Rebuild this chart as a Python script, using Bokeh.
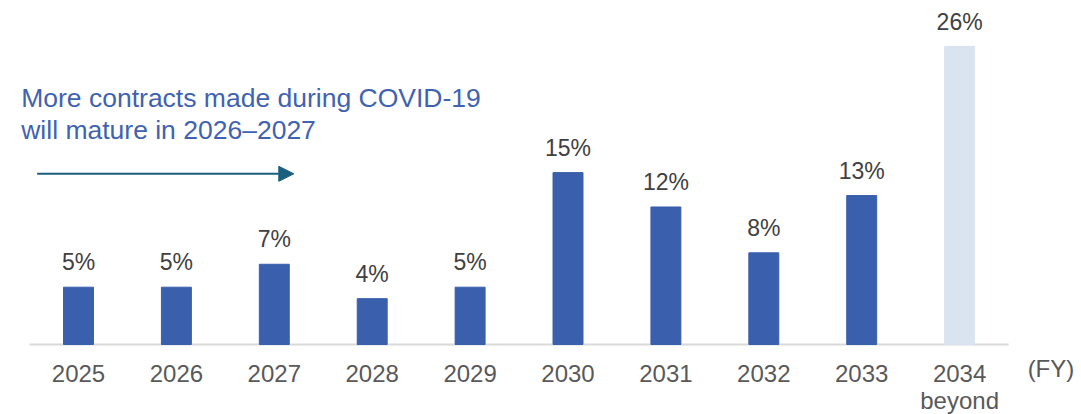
from bokeh.plotting import figure
from bokeh.models import Range1d, Arrow, NormalHead, ColumnDataSource
from bokeh.core.properties import value
from bokeh.embed import file_html
from bokeh.resources import INLINE

# ---- data ----
categories = ["2025", "2026", "2027", "2028", "2029", "2030", "2031", "2032", "2033", "2034\nbeyond"]
shares = [5, 5, 7, 4, 5, 15, 12, 8, 13, 26]
share_labels = ["5%", "5%", "7%", "4%", "5%", "15%", "12%", "8%", "13%", "26%"]
unit_label = "(FY)"
note_lines = ["More contracts made during COVID-19", "will mature in 2026\u20132027"]

FONT = "Liberation Sans"
DARK = "#3A5FAC"
LIGHT = "#DAE3F0"
NOTE = "#3F63B0"
ARROW = "#1B5E7E"

n = len(categories)
xs = list(range(n))
colors = [DARK] * (n - 1) + [LIGHT]
src = ColumnDataSource(dict(x=xs, top=shares, color=colors, lab=share_labels))

first = [c.split("\n")[0] for c in categories]
second_x = [i for i, c in enumerate(categories) if "\n" in c]
second = [c.split("\n")[1] for c in categories if "\n" in c]

p = figure(width=1081, height=414, output_backend="svg", toolbar_location=None,
           x_range=Range1d(-0.7967, 10.245), y_range=Range1d(-6.108, 30.017),
           min_border_left=0, min_border_right=0, min_border_top=0, min_border_bottom=0)
p.outline_line_color = None
p.grid.visible = False
p.axis.visible = False
p.background_fill_color = "white"
p.border_fill_color = "white"

# baseline (category axis line)
p.segment(x0=[-0.5], y0=[0], x1=[n - 0.5], y1=[0], line_color="#D9D9D9", line_width=2)

p.vbar(x="x", top="top", bottom=0, width=0.306, color="color", source=src)
p.text(x="x", y="top", text="lab", source=src, y_offset=-25, text_align="center",
       text_baseline="alphabetic", text_font=value(FONT), text_font_size="23px",
       text_color="#404040")

# category labels
p.text(x=xs, y=[0] * n, text=first, y_offset=29, text_align="center",
       text_baseline="alphabetic", text_font=value(FONT), text_font_size="24px",
       text_color="#595959")
p.text(x=second_x, y=[0] * len(second_x), text=second, y_offset=56, text_align="center",
       text_baseline="alphabetic", text_font=value(FONT), text_font_size="24px",
       text_color="#595959")
p.text(x=[9.933], y=[0], text=[unit_label], y_offset=24, text_align="center",
       text_baseline="alphabetic", text_font=value(FONT), text_font_size="24px",
       text_color="#595959")

# note
p.text(x=[-0.585, -0.585], y=[20.707, 17.95], text=note_lines, y_offset=-9, text_align="left",
       text_baseline="alphabetic", text_font=value(FONT), text_font_size="26.5px",
       text_color=NOTE)

p.add_layout(Arrow(end=NormalHead(size=15, fill_color=ARROW, line_color=ARROW),
                   x_start=-0.422, y_start=14.895, x_end=2.199, y_end=14.895,
                   line_color=ARROW, line_width=2))

open("out.html", "w").write(file_html(p, INLINE))
